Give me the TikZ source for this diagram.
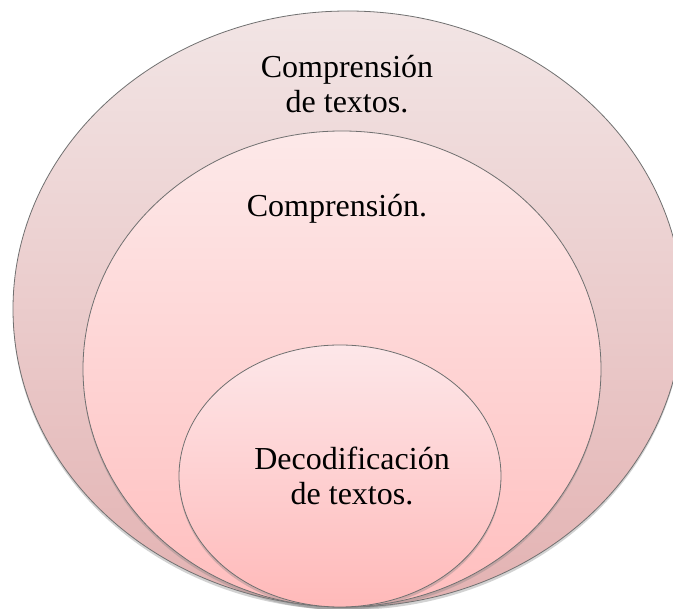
\documentclass[tikz,border=0pt]{standalone}
\usepackage{fontspec}
\setmainfont{Liberation Serif}
\usetikzlibrary{shapes.geometric,shadows}
\definecolor{otop}{HTML}{F2E5E5}
\definecolor{obot}{HTML}{E3B2B2}
\definecolor{mtop}{HTML}{FDE9E9}
\definecolor{mbot}{HTML}{FFBEBE}
\definecolor{itop}{HTML}{FDE7E9}
\definecolor{ibot}{HTML}{FFB9B9}
\definecolor{edge}{HTML}{707070}
\tikzset{
  circ/.style={ellipse, draw=edge, line width=0.8pt, inner sep=0pt,
    drop shadow={opacity=0.35, shadow xshift=0pt, shadow yshift=-3pt}},
  lbl/.style={font=\fontsize{32}{35}\selectfont, align=center, inner sep=0pt, text=black}
}
\begin{document}
\begin{tikzpicture}[x=1pt,y=-1pt]
\useasboundingbox (0,0) rectangle (673,609);
\fill[white] (0,0) rectangle (673,609);
\node[circ, top color=otop, bottom color=obot, minimum width=670pt, minimum height=596pt] (outer) at (348,309) {};
\node[circ, top color=mtop, bottom color=mbot, minimum width=518pt, minimum height=476pt] (middle) at (342,369) {};
\node[circ, top color=itop, bottom color=ibot, minimum width=322pt, minimum height=262pt] (inner) at (340,476) {};
\node[lbl] (t1) at (347,84) {Comprensión\\de textos.};
\node[lbl, anchor=base] (t2) at (337,217) {Comprensión.};
\node[lbl] (t3) at (352,476) {Decodificación\\de textos.};
\end{tikzpicture}
\end{document}
